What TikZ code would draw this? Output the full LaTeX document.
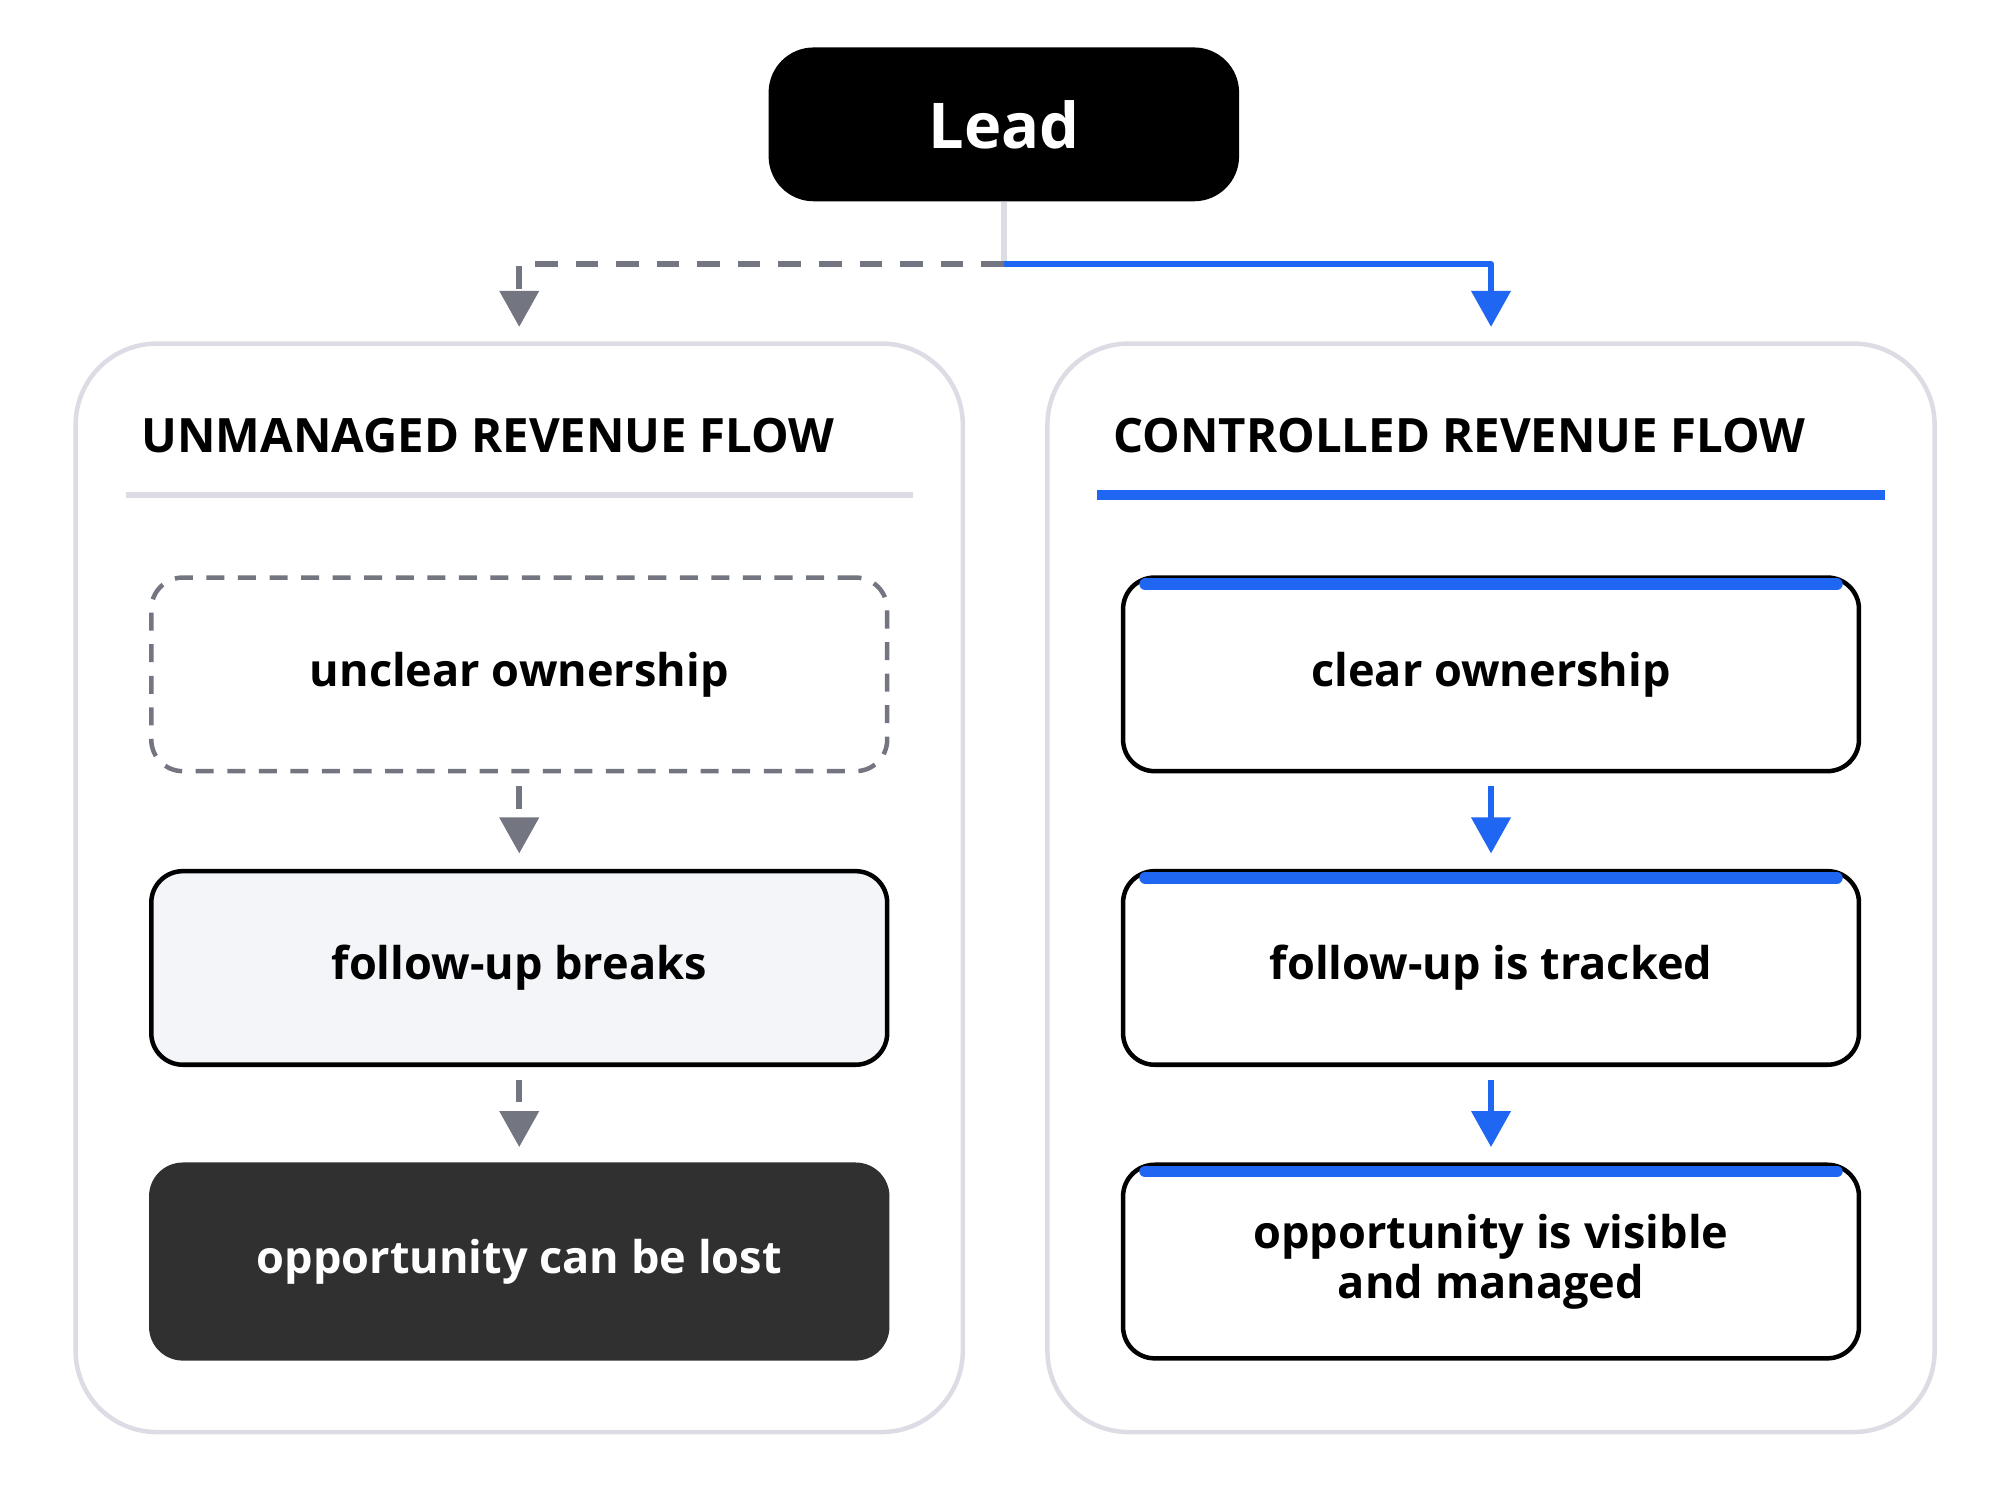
\documentclass[tikz,border=0pt]{standalone}
\usepackage{fontspec}
\setmainfont{Open Sans}
\usetikzlibrary{arrows.meta, calc}
\definecolor{flowblue}{HTML}{1F66F2}
\definecolor{flowgray}{HTML}{737680}
\definecolor{panelline}{HTML}{DCDCE4}
\definecolor{darkbox}{HTML}{303030}
\definecolor{softfill}{HTML}{F4F5F9}
\begin{document}
\begin{tikzpicture}[x=0.01cm, y=-0.01cm, >={Triangle[length=8pt,width=8.5pt]},
	line cap=butt, line join=round,
	panel/.style={draw=panelline, line width=1pt, rounded corners=18pt},
	flowbox/.style={draw=black, line width=1pt, rounded corners=7pt, minimum width=574*0.01cm,
		minimum height=151*0.01cm, align=center, font=\fontsize{10}{11}\selectfont\bfseries},
	title/.style={anchor=west, font=\fontsize{10.5}{12}\selectfont\bfseries},
	grayarrow/.style={->, flowgray, line width=1.4pt, dash pattern=on 5pt off 4pt},
	bluearrow/.style={->, flowblue, line width=1.4pt}]

\useasboundingbox (0,0) rectangle (1560,1170);

%========================
% top: lead
%========================
\node[fill=black, rounded corners=10pt, minimum width=367*0.01cm, minimum height=120*0.01cm,
	text=white, font=\fontsize{14}{16}\selectfont\bfseries] (lead) at (783,97) {Lead};
\coordinate (split) at (783,206);
\coordinate (leftin) at (405,255);
\coordinate (rightin) at (1163,255);
\draw[panelline, line width=1.2pt] (lead.south) -- (split);
\draw[grayarrow] (split) -| (leftin);
\draw[bluearrow] (split) -| (rightin);

%========================
% left: unmanaged
%========================
\draw[panel] (59,268) rectangle (751,1117);
\node[title] at (98,340) {UNMANAGED REVENUE FLOW};
\draw[panelline, line width=1.2pt] (98,386) -- (712,386);
\node[flowbox, draw=flowgray, dash pattern=on 4pt off 3pt] (unclear) at (405,526) {unclear ownership};
\node[flowbox, fill=softfill] (breaks) at (405,755) {follow-up breaks};
\node[flowbox, draw=darkbox, fill=darkbox, text=white] (lost) at (405,984) {opportunity can be lost};
\draw[grayarrow] ([yshift=-10*0.01cm]unclear.south) -- ([yshift=12*0.01cm]breaks.north);
\draw[grayarrow] ([yshift=-10*0.01cm]breaks.south) -- ([yshift=12*0.01cm]lost.north);

%========================
% right: controlled
%========================
\draw[panel] (817,268) rectangle (1509,1117);
\node[title] at (856,340) {CONTROLLED REVENUE FLOW};
\draw[flowblue, line width=2.2pt] (856,386) -- (1470,386);
\node[flowbox] (owner) at (1163,526) {clear ownership};
\node[flowbox] (tracked) at (1163,755) {follow-up is tracked};
\node[flowbox] (managed) at (1163,984) {opportunity is visible\\and managed};
\foreach \n in {owner, tracked, managed}
	\draw[flowblue, line width=2.6pt, line cap=round] ([xshift=19*0.01cm, yshift=-7*0.01cm]\n.north west) -- ([xshift=-19*0.01cm, yshift=-7*0.01cm]\n.north east);
\draw[bluearrow] ([yshift=-10*0.01cm]owner.south) -- ([yshift=12*0.01cm]tracked.north);
\draw[bluearrow] ([yshift=-10*0.01cm]tracked.south) -- ([yshift=12*0.01cm]managed.north);

\end{tikzpicture}
\end{document}
